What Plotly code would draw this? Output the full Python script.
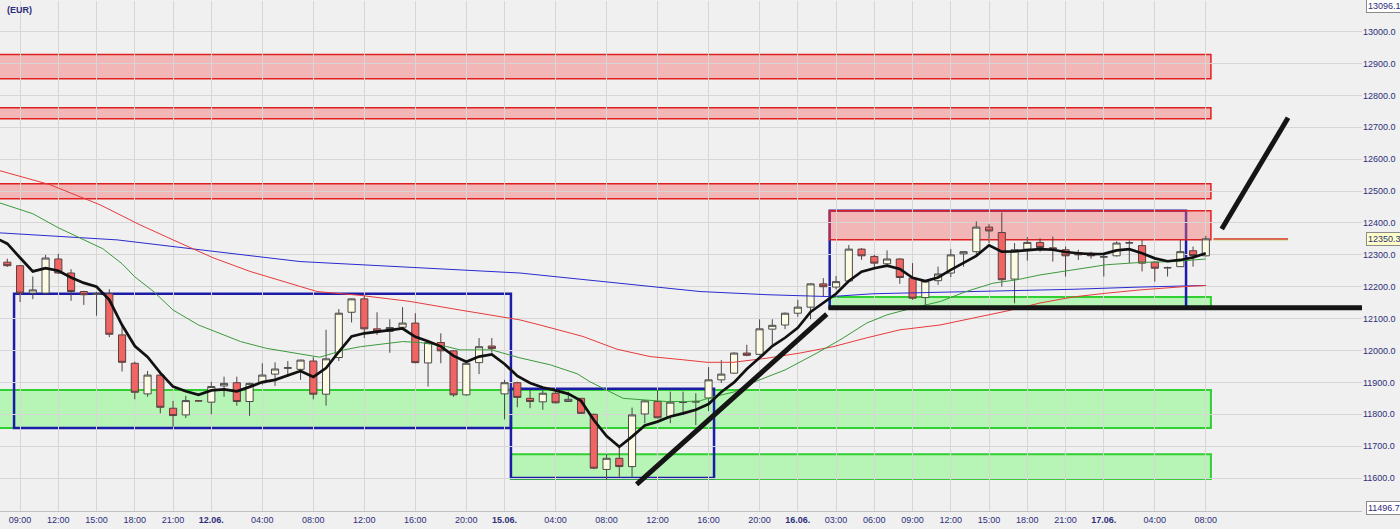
import plotly.graph_objects as go

# ---------------- data ----------------
bar_index = list(range(95))
open_ = [12277,12266,12180,12180,12287,12243,12185,12176,12178,12049,
         11960,11864,11923,11819,11798,11842,11838,11889,11899,11840,
         11899,11926,11944,11941,11967,11863,11978,12120,12162,12068,
         12060,12073,12086,11961,12025,11999,11861,11962,12014,11864,
         11899,11850,11839,11866,11840,11850,11800,11627,11662,11636,
         11801,11840,11793,11837,11838,11851,11908,11929,11992,11988,
         12067,12080,12117,12136,12209,12199,12218,12318,12295,12272,
         12287,12227,12166,12219,12243,12303,12310,12387,12370,12224,
         12318,12339,12322,12316,12307,12305,12293,12297,12337,12329,
         12277,12259,12263,12313,12297]
high_ = [12288,12268,12232,12300,12303,12255,12187,12184,12192,12077,
         11965,11936,11925,11842,11858,11843,11902,11918,11918,11899,
         11960,11963,11967,11971,11979,12065,12130,12163,12175,12120,
         12098,12136,12117,12026,12054,12001,11961,12039,12039,11908,
         11902,11876,11876,11876,11871,11851,11802,11675,11698,11821,
         11845,11876,11871,11871,11866,11948,11970,11994,12018,12098,
         12098,12119,12159,12211,12227,12234,12331,12321,12300,12314,
         12289,12274,12220,12263,12318,12311,12405,12397,12433,12337,
         12356,12352,12357,12326,12316,12310,12300,12342,12345,12347,
         12279,12263,12347,12326,12360]
low_ = [12262,12152,12161,12176,12240,12156,12143,12109,12042,11934,
        11847,11855,11803,11761,11788,11841,11800,11855,11827,11795,
        11893,11889,11918,11908,11847,11827,11967,12088,12039,12049,
        11993,12065,11960,11887,11960,11855,11858,11926,11993,11784,
        11822,11819,11814,11834,11839,11801,11628,11594,11604,11604,
        11772,11787,11772,11798,11766,11810,11898,11927,11982,11985,
        12018,12067,12106,12098,12169,12192,12215,12284,12255,12269,
        12209,12159,12140,12206,12230,12263,12300,12337,12200,12148,
        12282,12310,12279,12232,12284,12288,12232,12295,12274,12248,
        12216,12232,12262,12263,12295]
close_ = [12266,12180,12190,12290,12243,12185,12175,12179,12051,11963,
          11869,11923,11822,11796,11843,11842,11887,11897,11840,11897,
          11923,11942,11946,11970,11863,11974,12117,12162,12068,12059,
          12072,12086,11962,12025,11999,11861,11960,12012,12006,11899,
          11853,11840,11866,11836,11847,11803,11631,11662,11636,11798,
          11842,11789,11838,11838,11840,11908,11926,11992,11985,12068,
          12079,12117,12136,12209,12200,12216,12318,12297,12274,12287,
          12229,12164,12218,12240,12300,12310,12387,12375,12222,12316,
          12339,12323,12318,12297,12300,12297,12294,12337,12338,12274,
          12258,12260,12310,12298,12350.3]

# short moving average (thick black)
ma_fast_x = [-0.6] + list(range(95))
ma_fast_y = [12347,
    12335,12291,12248,12258,12250,12229,12212,12200,12159,12080,
    12014,11980,11930,11887,11872,11861,11875,11878,11872,11886,
    11901,11908,11922,11936,11917,11945,11996,12044,12054,12058,
    12064,12069,12043,12029,12013,11983,11965,11981,11988,11958,
    11920,11898,11884,11875,11864,11842,11782,11732,11698,11730,
    11765,11777,11793,11803,11814,11832,11870,11900,11942,11977,
    12014,12040,12071,12121,12149,12178,12218,12247,12258,12266,
    12256,12228,12218,12229,12253,12275,12297,12330,12310,12311,
    12315,12318,12316,12309,12305,12302,12303,12314,12318,12305,
    12289,12280,12284,12292,12305]

# medium moving average (thin green)
ma_mid_x = [-0.6,2,4,6,7.5,9,10,11.5,13,15,17,18.3,20.3,22.4,24.5,25.6,26.4,27.7,29,31,
            32.4,34.5,35.5,38,39.4,40.2,42.6,44.7,45.7,47,48.3,50,51.7,53.3,54.3,55.4,57,58.3,
            61,63.5,65.3,67.4,69,71,73.2,75.2,77.3,79.2,81,83.6,86.2,88.8,91.5,94]
ma_mid_y = [12463,12429,12385,12347,12319,12272,12231,12184,12127,12080,12049,12028,12007,11993,11979,11992,12002,12012,12018,12028,
            12025,12012,12002,12002,11986,11977,11955,11927,11902,11876,11850,11845,11840,11840,11842,11855,11870,11897,
            11939,11992,12033,12086,12112,12133,12154,12185,12211,12222,12237,12253,12269,12276,12279,12287]

# slow moving average (thin red)
ma_slow_x = [-0.6,3.35,7.27,10.41,13,16.13,19.04,21.62,24.29,27.66,31.58,35.51,40.21,41.78,45.15,47.82,50.41,
             52.99,54.88,56.92,59.58,62.17,64.76,67.43,70.02,73.15,78.41,81,83.59,86.25,88.84,92.53,94.02]
ma_slow_y = [12564,12520,12457,12394,12347,12291,12248,12216,12185,12173,12154,12127,12096,12080,12044,12004,11981,
             11971,11963,11963,11976,11992,12012,12040,12065,12080,12124,12149,12168,12180,12190,12201,12204]

# long moving average (thin blue)
ma_long_x = [-0.6,8.6,15.11,22.96,40.21,54.33,59.58,64.53,67.9,73.15,78.41,83.59,88.84,94.02]
ma_long_y = [12369,12347,12316,12279,12243,12185,12175,12169,12178,12182,12188,12192,12199,12204]

# resistance zones (red) : [x0, x1, low, high]
red_zones = [[-1, 94.4, 12852, 12928],
             [-1, 94.4, 12727, 12761],
             [-1, 94.4, 12476, 12523],
             [64.5, 94.4, 12347, 12438]]
# support zones (green)
green_zones = [[-1, 94.4, 11757, 11876],
               [39.5, 94.4, 11597, 11675],
               [64.5, 94.4, 12137, 12168]]
# range boxes (blue)
range_boxes = [[0.53, 39.5, 11757, 12178],
               [39.5, 55.43, 11600, 11880],
               [64.5, 92.45, 12134, 12438]]
# drawn trend lines [x0, y0, x1, y1]
trend_lines = [[49.36, 11580, 64.27, 12114],
               [95.25, 12381, 100.45, 12730],
               [64.4, 12134, 107, 12134]]
last_price = 12350.3
last_price_span = [94.6, 100.45]

tick_pos = [1,4,7,10,13,16,20,24,28,32,36,39,43,47,51,55,59,62,65,68,71,74,77,80,83,86,90,94]
tick_lab = ["09:00","12:00","15:00","18:00","21:00","<b>12.06.</b>","04:00","08:00","12:00","16:00",
            "20:00","<b>15.06.</b>","04:00","08:00","12:00","16:00","20:00","<b>16.06.</b>","03:00",
            "06:00","09:00","12:00","15:00","18:00","21:00","<b>17.06.</b>","04:00","08:00"]
price_ticks = [11600,11700,11800,11900,12000,12100,12200,12300,12400,12500,12600,12700,12800,12900,13000]
y_min, y_max = 11496.7, 13096.1

# ---------------- figure ----------------
NAVY = "#2e2e7a"
fig = go.Figure()

fig.add_trace(go.Scatter(x=ma_long_x, y=ma_long_y, mode="lines",
                         line=dict(color="#2a2ad0", width=1), hoverinfo="skip"))
fig.add_trace(go.Scatter(x=ma_slow_x, y=ma_slow_y, mode="lines",
                         line=dict(color="#e83a3a", width=1), hoverinfo="skip"))
fig.add_trace(go.Scatter(x=ma_mid_x, y=ma_mid_y, mode="lines",
                         line=dict(color="#3c9a3c", width=1), hoverinfo="skip"))

fig.add_trace(go.Candlestick(
    x=bar_index, open=open_, high=high_, low=low_, close=close_,
    increasing=dict(fillcolor="#fdfbe4", line=dict(color="#4a4a4a", width=1)),
    decreasing=dict(fillcolor="#f06464", line=dict(color="#5a4040", width=1)),
    whiskerwidth=0, hoverinfo="skip"))

fig.add_trace(go.Scatter(x=ma_fast_x, y=ma_fast_y, mode="lines",
                         line=dict(color="#111111", width=2.7), hoverinfo="skip"))

shapes = []
for x0, x1, lo, hi in green_zones:
    shapes.append(dict(type="rect", xref="x", yref="y", x0=x0, x1=x1, y0=lo, y1=hi,
                       line=dict(color="#30d030", width=2), fillcolor="rgba(110,250,110,0.45)", layer="below"))
for x0, x1, lo, hi in range_boxes:
    shapes.append(dict(type="rect", xref="x", yref="y", x0=x0, x1=x1, y0=lo, y1=hi,
                       line=dict(color="#1c1ca8", width=2.5), fillcolor="rgba(0,0,0,0)", layer="below"))
for x0, x1, lo, hi in red_zones:
    shapes.append(dict(type="rect", xref="x", yref="y", x0=x0, x1=x1, y0=lo, y1=hi,
                       line=dict(color="#e02020", width=1.5), fillcolor="rgba(245,110,110,0.45)", layer="below"))
for x0, y0, x1, y1 in trend_lines:
    shapes.append(dict(type="line", xref="x", yref="y", x0=x0, y0=y0, x1=x1, y1=y1,
                       line=dict(color="#151515", width=5), layer="above"))
shapes.append(dict(type="line", xref="x", yref="y", x0=last_price_span[0], x1=last_price_span[1],
                   y0=last_price - 3, y1=last_price - 3, line=dict(color="#b0b020", width=1), layer="above"))
shapes.append(dict(type="line", xref="x", yref="y", x0=last_price_span[0], x1=last_price_span[1],
                   y0=last_price, y1=last_price, line=dict(color="#e03030", width=1.3), layer="above"))

annotations = [
    dict(text="<b>(EUR)</b>", xref="paper", yref="paper", x=0.004, y=1, xanchor="left", yanchor="top",
         yshift=-2, showarrow=False, font=dict(size=9, color=NAVY, family="Liberation Sans")),
    dict(text="13096.1", xref="paper", yref="y", x=1, y=y_max, xanchor="left", yanchor="top",
         xshift=4, yshift=2, showarrow=False, bgcolor="#ffffff", bordercolor="#8a8a8a", borderwidth=1, borderpad=1,
         font=dict(size=9, color=NAVY, family="Liberation Sans")),
    dict(text="11496.7", xref="paper", yref="y", x=1, y=y_min, xanchor="left", yanchor="middle",
         xshift=4, yshift=3, showarrow=False, bgcolor="#ffffff", bordercolor="#8a8a8a", borderwidth=1, borderpad=1,
         font=dict(size=9, color=NAVY, family="Liberation Sans")),
    dict(text=f"{last_price:.1f}", xref="paper", yref="y", x=1, y=last_price, xanchor="left", yanchor="middle",
         xshift=4, showarrow=False, bgcolor="#ffffc8", bordercolor="#8a8a8a", borderwidth=1, borderpad=1,
         font=dict(size=9, color=NAVY, family="Liberation Sans")),
]

fig.update_layout(
    width=1400, height=529,
    margin=dict(l=0, r=38, t=1, b=18),
    paper_bgcolor="#f0f0f0", plot_bgcolor="#f0f0f0",
    showlegend=False, shapes=shapes, annotations=annotations,
    font=dict(family="Liberation Sans", size=9, color=NAVY),
    boxgap=0.2,
    xaxis=dict(range=[-0.573, 106.25], tickmode="array", tickvals=tick_pos, ticktext=tick_lab,
               showgrid=True, gridcolor="#d6d6d6", gridwidth=1, zeroline=False,
               rangeslider=dict(visible=False), showline=True, linecolor="#c0c0c0",
               tickfont=dict(size=9, color=NAVY), ticks="", fixedrange=True),
    yaxis=dict(range=[y_min, y_max], side="right", tickmode="array", tickvals=price_ticks,
               ticktext=[f"{v:.1f}" for v in price_ticks], showgrid=True, gridcolor="#d6d6d6",
               zeroline=False, tickfont=dict(size=9, color=NAVY), ticks="", fixedrange=True),
)

fig.write_html("out.html",
               config={"displayModeBar": False},
               post_script="document.body.style.margin='0px';document.body.style.overflow='hidden';")
